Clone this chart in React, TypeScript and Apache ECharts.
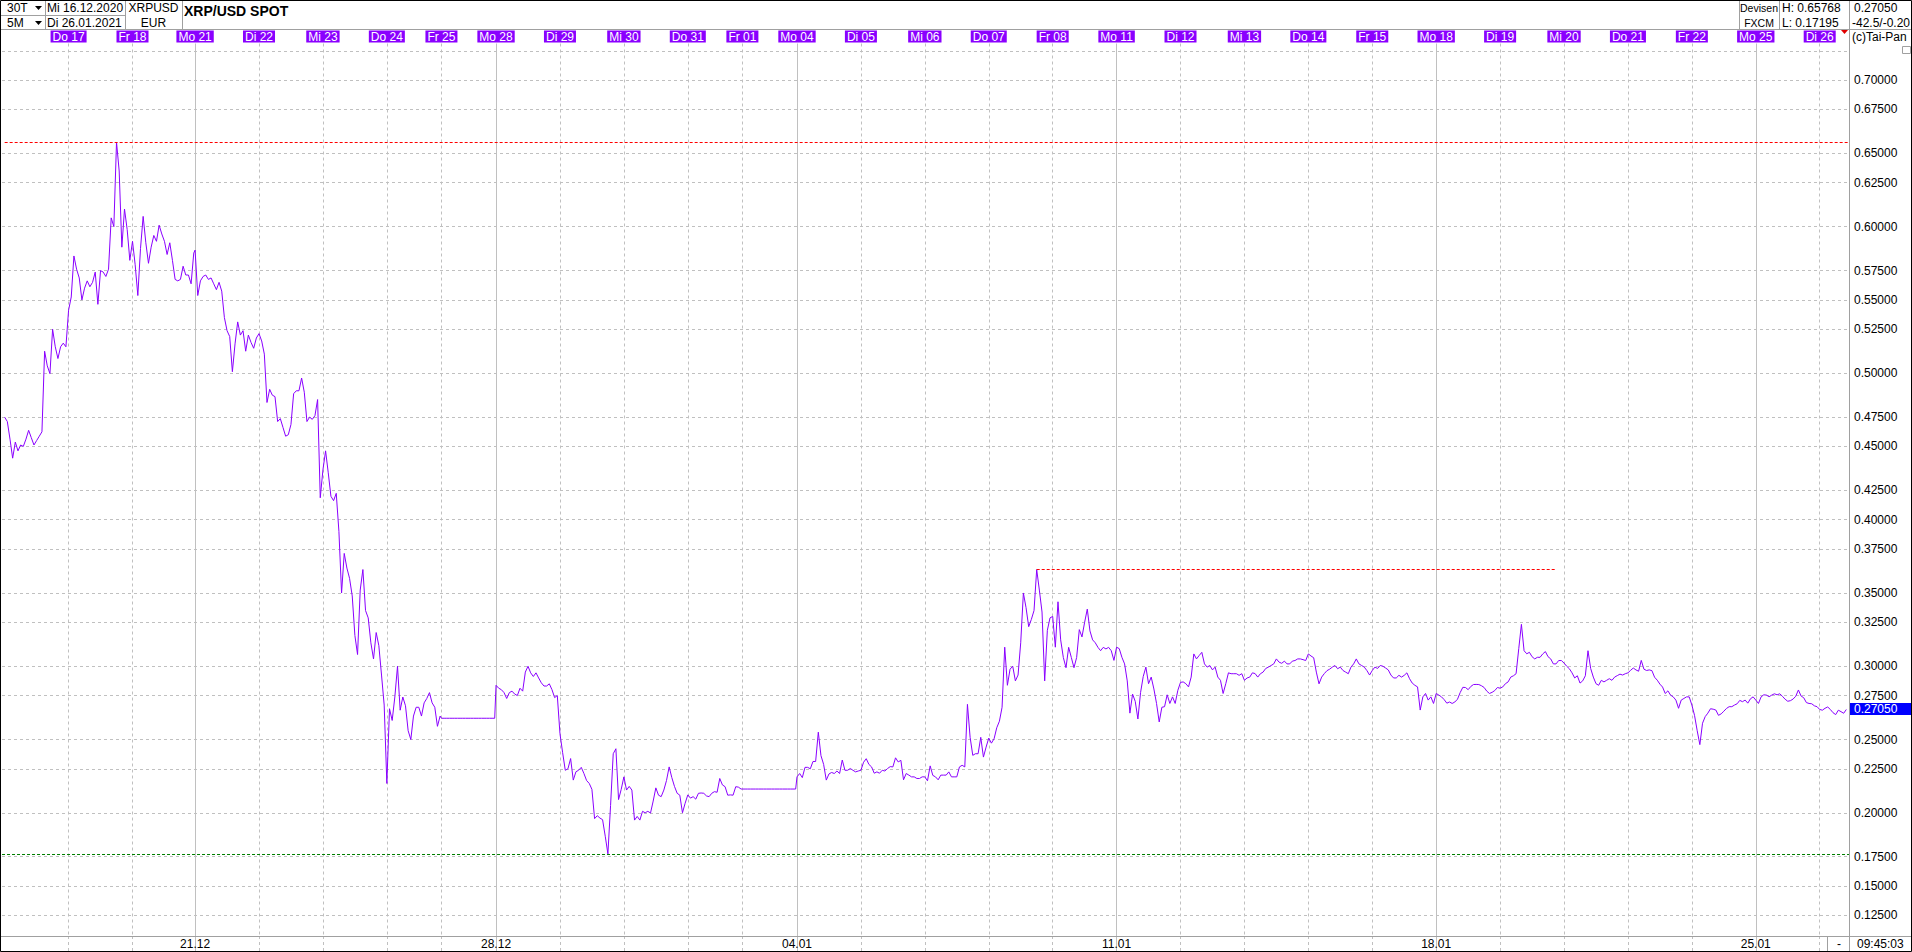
import React, { useEffect, useRef } from 'react';
import * as echarts from 'echarts';

// ---- trading days shown on the chart (label, date, number of 30-minute bars) ----
const dayLabels = ['Mi 16', 'Do 17', 'Fr 18', 'Mo 21', 'Di 22', 'Mi 23', 'Do 24', 'Fr 25', 'Mo 28', 'Di 29', 'Mi 30', 'Do 31', 'Fr 01', 'Mo 04', 'Di 05', 'Mi 06', 'Do 07', 'Fr 08', 'Mo 11', 'Di 12', 'Mi 13', 'Do 14', 'Fr 15', 'Mo 18', 'Di 19', 'Mi 20', 'Do 21', 'Fr 22', 'Mo 25', 'Di 26'];
const dayDates = ['16.12', '17.12', '18.12', '21.12', '22.12', '23.12', '24.12', '25.12', '28.12', '29.12', '30.12', '31.12', '01.01', '04.01', '05.01', '06.01', '07.01', '08.01', '11.01', '12.01', '13.01', '14.01', '15.01', '18.01', '19.01', '20.01', '21.01', '22.01', '25.01', '26.01'];
const dayBars = [50, 48, 47, 48, 48, 48, 41, 41, 48, 48, 48, 41, 41, 48, 48, 48, 48, 48, 48, 48, 48, 48, 48, 48, 48, 48, 48, 48, 48, 23];

// ---- XRP/USD hourly closes per day ----
const d1216 = [null, 0.470, 0.467, 0.455, 0.442, 0.453, 0.447, 0.451, 0.450, 0.455, 0.461, 0.456, 0.451, 0.454, 0.457, 0.460, 0.515, 0.505, 0.4997, 0.530, 0.518, 0.510, 0.518, 0.5205, 0.518];
const d1217 = [0.543, 0.552, 0.580, 0.571, 0.565, 0.550, 0.558, 0.563, 0.559, 0.562, 0.569, 0.547, 0.570, 0.569, 0.566, 0.571, 0.606, 0.600, 0.65768, 0.638, 0.586, 0.612, 0.598, 0.577];
const d1218 = [0.590, 0.574, 0.553, 0.585, 0.607, 0.589, 0.575, 0.586, 0.594, 0.590, 0.601, 0.595, 0.590, 0.581, 0.589, 0.577, 0.564, 0.563, 0.564, 0.573, 0.567, 0.567, 0.561, 0.582];
const d1221 = [0.584, 0.553, 0.563, 0.566, 0.567, 0.564, 0.565, 0.561, 0.557, 0.562, 0.556, 0.538, 0.529, 0.525, 0.501, 0.520, 0.535, 0.526, 0.529, 0.515, 0.526, 0.521, 0.517, 0.524];
const d1222 = [0.527, 0.522, 0.513, 0.480, 0.489, 0.485, 0.484, 0.467, 0.469, 0.463, 0.457, 0.458, 0.465, 0.486, 0.488, 0.488, 0.4967, 0.487, 0.467, 0.470, 0.4685, 0.471, 0.482, 0.415];
const d1223 = [0.434, 0.447, 0.432, 0.416, 0.413, 0.418, 0.392, 0.350, 0.377, 0.367, 0.360, 0.348, 0.321, 0.308, 0.352, 0.366, 0.338, 0.333, 0.316, 0.305, 0.323, 0.314, 0.294, 0.2735];
const d1224 = [0.220, 0.271, 0.263, 0.279, 0.300, 0.270, 0.279, 0.273, 0.256, 0.250, 0.266, 0.272, 0.272, 0.266, 0.275, 0.278, 0.282, 0.275, 0.272, 0.259, 0.266];
const d1225 = [0.2645, 0.2645, 0.2645, 0.2645, 0.2645, 0.2645, 0.2645, 0.2645, 0.2645, 0.2645, 0.2645, 0.2645, 0.2645, 0.2645, 0.2645, 0.2645, 0.2645, 0.2645, 0.2645, 0.2645, 0.2645];
const d1228 = [0.287, 0.285, 0.284, 0.282, 0.278, 0.282, 0.283, 0.281, 0.280, 0.285, 0.283, 0.296, 0.300, 0.2955, 0.293, 0.2955, 0.292, 0.2887, 0.2865, 0.2865, 0.288, 0.284, 0.2786, 0.280];
const d1229 = [0.254, 0.241, 0.229, 0.230, 0.237, 0.2223, 0.228, 0.229, 0.231, 0.2268, 0.222, 0.220, 0.216, 0.196, 0.198, 0.1964, 0.1953, 0.184, 0.17195, 0.205, 0.2403, 0.2437, 0.209, 0.216];
const d1230 = [0.2245, 0.2155, 0.218, 0.2155, 0.195, 0.1975, 0.195, 0.201, 0.200, 0.201, 0.1998, 0.208, 0.217, 0.212, 0.211, 0.2155, 0.222, 0.2313, 0.224, 0.218, 0.2133, 0.212, 0.200, 0.2065];
const d1231 = [0.2122, 0.210, 0.211, 0.2093, 0.2133, 0.2135, 0.2133, 0.2115, 0.211, 0.2133, 0.2144, 0.214, 0.2234, 0.219, 0.2178, 0.212, 0.2122, 0.212, 0.2178, 0.2175, 0.2162];
const d0101 = [0.2162, 0.2162, 0.2162, 0.2162, 0.2162, 0.2162, 0.2162, 0.2162, 0.2162, 0.2162, 0.2162, 0.2162, 0.2162, 0.2162, 0.2162, 0.2162, 0.2162, 0.2162, 0.2162, 0.2162, 0.2162];
const d0104 = [0.2245, 0.2268, 0.224, 0.231, 0.231, 0.230, 0.235, 0.235, 0.255, 0.239, 0.233, 0.2223, 0.2265, 0.2275, 0.2268, 0.2285, 0.2268, 0.236, 0.229, 0.229, 0.2302, 0.229, 0.2279, 0.2285];
const d0105 = [0.229, 0.2345, 0.2369, 0.233, 0.2313, 0.227, 0.2279, 0.227, 0.229, 0.2285, 0.2302, 0.2315, 0.2313, 0.2375, 0.2347, 0.2358, 0.2225, 0.2268, 0.2257, 0.2245, 0.2245, 0.2234, 0.2234, 0.2245];
const d0106 = [0.2245, 0.2218, 0.232, 0.2255, 0.2245, 0.2225, 0.2257, 0.2257, 0.2257, 0.2279, 0.2245, 0.2245, 0.2245, 0.2313, 0.2324, 0.2313, 0.274, 0.2515, 0.2392, 0.2403, 0.2403, 0.2515, 0.238, 0.2448];
const d0107 = [0.251, 0.2475, 0.2505, 0.258, 0.2625, 0.272, 0.313, 0.287, 0.298, 0.300, 0.290, 0.294, 0.316, 0.350, 0.340, 0.327, 0.332, 0.338, 0.366, 0.352, 0.337, 0.290, 0.3245, 0.333];
const d0108 = [0.334, 0.313, 0.344, 0.318, 0.306, 0.299, 0.3129, 0.306, 0.299, 0.306, 0.325, 0.320, 0.330, 0.339, 0.3241, 0.318, 0.316, 0.3129, 0.3106, 0.3129, 0.3118, 0.3129, 0.3106, 0.304];
const d0111 = [0.313, 0.312, 0.3061, 0.3016, 0.290, 0.268, 0.281, 0.276, 0.264, 0.282, 0.293, 0.2994, 0.2881, 0.2926, 0.2845, 0.2746, 0.262, 0.272, 0.2724, 0.2805, 0.2746, 0.2791, 0.2746, 0.2836];
const d0112 = [0.289, 0.2893, 0.2881, 0.2859, 0.2926, 0.3084, 0.305, 0.3073, 0.3095, 0.3016, 0.2994, 0.3005, 0.2975, 0.2994, 0.2926, 0.2904, 0.2814, 0.2881, 0.2955, 0.2949, 0.2949, 0.2949, 0.2938, 0.2949];
const d0113 = [0.2904, 0.292, 0.2926, 0.2955, 0.295, 0.2926, 0.2949, 0.296, 0.2985, 0.2994, 0.3005, 0.3016, 0.305, 0.3028, 0.302, 0.3035, 0.3016, 0.3016, 0.3035, 0.3039, 0.305, 0.305, 0.3045, 0.3039];
const d0114 = [0.3084, 0.307, 0.3058, 0.296, 0.288, 0.2926, 0.295, 0.297, 0.298, 0.2994, 0.3005, 0.2983, 0.2994, 0.2971, 0.296, 0.2949, 0.2994, 0.3016, 0.305, 0.3016, 0.3005, 0.2994, 0.297, 0.294];
const d0115 = [0.2971, 0.2994, 0.2985, 0.3005, 0.300, 0.2988, 0.2975, 0.294, 0.292, 0.292, 0.2938, 0.2926, 0.2938, 0.2955, 0.2915, 0.2885, 0.287, 0.2859, 0.2701, 0.2791, 0.2814, 0.2769, 0.2791, 0.2746];
const d0118 = [0.2814, 0.2803, 0.2791, 0.2772, 0.2748, 0.2756, 0.2746, 0.2756, 0.2775, 0.282, 0.2856, 0.2855, 0.284, 0.2862, 0.2875, 0.2876, 0.2875, 0.2867, 0.2855, 0.283, 0.2814, 0.2822, 0.2834, 0.2855];
const d0119 = [0.285, 0.2859, 0.2881, 0.2893, 0.2926, 0.2935, 0.2949, 0.312, 0.3286, 0.3106, 0.3085, 0.3095, 0.3065, 0.305, 0.3061, 0.3061, 0.3084, 0.310, 0.3065, 0.305, 0.3016, 0.3016, 0.3039, 0.3039];
const d0120 = [0.3022, 0.300, 0.2983, 0.2955, 0.292, 0.2935, 0.2885, 0.290, 0.2935, 0.3106, 0.2985, 0.2926, 0.2881, 0.287, 0.2904, 0.2893, 0.2904, 0.2915, 0.2904, 0.2926, 0.2936, 0.2946, 0.294, 0.2949];
const d0121 = [0.2955, 0.2972, 0.2988, 0.2975, 0.2966, 0.304, 0.298, 0.2971, 0.2975, 0.297, 0.2925, 0.2905, 0.2878, 0.2858, 0.2814, 0.2832, 0.2803, 0.2791, 0.2769, 0.2713, 0.2769, 0.278, 0.2791, 0.2791];
const d0122 = [0.2735, 0.2665, 0.256, 0.2465, 0.2611, 0.2656, 0.268, 0.271, 0.2707, 0.2701, 0.2665, 0.2675, 0.2693, 0.2712, 0.2724, 0.2724, 0.2735, 0.2744, 0.2767, 0.2758, 0.2769, 0.2748, 0.2778, 0.2791];
const d0125 = [0.2769, 0.2746, 0.2791, 0.2805, 0.2803, 0.2792, 0.2803, 0.2812, 0.2805, 0.2812, 0.2795, 0.2775, 0.2761, 0.2765, 0.2776, 0.2795, 0.2838, 0.2797, 0.2785, 0.2752, 0.2746, 0.2744, 0.273, 0.2724];
const d0126 = [0.2705, 0.270, 0.2713, 0.2722, 0.2705, 0.2683, 0.267, 0.270, 0.269, 0.2679, 0.2705];

const dayPrices = [d1216, d1217, d1218, d1221, d1222, d1223, d1224, d1225, d1228, d1229, d1230, d1231, d0101, d0104, d0105, d0106, d0107, d0108, d0111, d0112, d0113, d0114, d0115, d0118, d0119, d0120, d0121, d0122, d0125, d0126];

// ---- levels & axis ticks ----
const yTicks = [0.125, 0.15, 0.175, 0.2, 0.225, 0.25, 0.275, 0.3, 0.325, 0.35, 0.375, 0.4, 0.425, 0.45, 0.475, 0.5, 0.525, 0.55, 0.575, 0.6, 0.625, 0.65, 0.675, 0.7, 0.725];
const highValue = 0.65768;
const lowValue = 0.17195;
const lastValue = 0.2705;
const localHigh = 0.366;
const changeText = '-42.5/-0.20';
const timeText = '09:45:03';

const FONT = '"Liberation Sans", Arial, Helvetica, sans-serif';
const GRAY = '#a0a0a0';
const GRID = '#c0c0c0';
const PURPLE = '#8a00ff';

function buildGraphics() {
  const t = (x: number, y: number, text: string, o: any = {}) => ({
    type: 'text', x, y, z: 50, silent: true,
    style: { text, fill: '#000', fontSize: 12, fontFamily: FONT, verticalAlign: 'middle', align: 'left', ...o },
  });
  const ln = (x1: number, y1: number, x2: number, y2: number, stroke = GRAY) => ({
    type: 'line', z: 40, silent: true, shape: { x1, y1, x2, y2 }, style: { stroke, lineWidth: 1 },
  });
  return [
    { type: 'rect', z: 60, silent: true, shape: { x: 0.5, y: 0.5, width: 1911, height: 951 }, style: { fill: 'none', stroke: '#000', lineWidth: 1 } },
    ln(0, 29.5, 1912, 29.5),
    ln(0, 15.5, 125, 15.5),
    ln(45.5, 0, 45.5, 29),
    ln(125.5, 0, 125.5, 29),
    ln(182.5, 0, 182.5, 29),
    ln(1739.5, 0, 1739.5, 29),
    ln(1779.5, 0, 1779.5, 29),
    ln(1849.5, 0, 1849.5, 952),
    ln(0, 936.5, 1912, 936.5),
    ln(1827.5, 937, 1827.5, 952),
    { type: 'polygon', z: 50, silent: true, shape: { points: [[35, 6], [42, 6], [38.5, 10]] }, style: { fill: '#000' } },
    { type: 'polygon', z: 50, silent: true, shape: { points: [[35, 21], [42, 21], [38.5, 25]] }, style: { fill: '#000' } },
    t(7, 8, '30T'),
    t(7, 22.5, '5M'),
    t(47, 8, 'Mi 16.12.2020'),
    t(47, 22.5, 'Di 26.01.2021'),
    t(153.5, 8, 'XRPUSD', { align: 'center' }),
    t(153.5, 22.5, 'EUR', { align: 'center' }),
    t(184, 11, 'XRP/USD SPOT', { fontWeight: 'bold', fontSize: 14 }),
    t(1759, 8, 'Devisen', { align: 'center', fontSize: 10.5 }),
    t(1759, 22.5, 'FXCM', { align: 'center', fontSize: 10.5 }),
    t(1782, 8, 'H: ' + highValue.toFixed(5)),
    t(1782, 22.5, 'L: ' + lowValue.toFixed(5)),
    t(1854, 8, lastValue.toFixed(5)),
    t(1852, 22.5, changeText),
    t(1852, 37, '(c)Tai-Pan'),
    { type: 'polygon', z: 50, silent: true, shape: { points: [[1841, 30], [1848, 30], [1844.5, 34]] }, style: { fill: '#e00000' } },
    { type: 'rect', z: 50, silent: true, shape: { x: 1902.5, y: 46.5, width: 8, height: 7 }, style: { fill: '#fff', stroke: GRAY, lineWidth: 1 } },
    ln(1904, 50, 1909, 50),
    t(1839, 944, '-', { align: 'center' }),
    t(1857, 944, timeText),
  ];
}

function buildOption() {
  const starts: number[] = [];
  let acc = 0;
  dayBars.forEach((b) => { starts.push(acc); acc += b; });
  const total = acc;
  const categories: string[] = [];
  dayBars.forEach((b, d) => { for (let k = 0; k < b; k++) categories.push(dayDates[d] + '/' + k); });
  const startMap = new Map<number, number>();
  starts.forEach((s, d) => startMap.set(s, d));
  const isDayStart = (i: number) => i > 0 && startMap.has(i);
  const isMonday = (i: number) => isDayStart(i) && dayLabels[startMap.get(i)!].startsWith('Mo');
  const isPlainDay = (i: number) => isDayStart(i) && !isMonday(i);

  const points: [number, number][] = [];
  dayPrices.forEach((arr, d) => arr.forEach((v, j) => { if (v != null) points.push([starts[d] + 2 * j, v as number]); }));

  // local high (Do 07) and the end of its resistance line
  const hiIdx = starts[16] + 2 * d0107.indexOf(localHigh);
  const hiEnd = starts[25] - 7;

  const baseX = {
    type: 'category', data: categories, boundaryGap: false, gridIndex: 0,
    axisLine: { show: false, onZero: false },
  };

  return {
    animation: false,
    backgroundColor: '#fff',
    textStyle: { fontFamily: FONT },
    grid: { left: 2, right: 63, top: 43.5, bottom: 16, containLabel: false },
    xAxis: [
      {
        ...baseX, position: 'bottom',
        axisTick: { show: true, interval: (i: number) => isPlainDay(i), length: 15, lineStyle: { color: GRID, type: [3, 3] } },
        splitLine: { show: true, interval: (i: number) => isPlainDay(i), lineStyle: { color: GRID, type: [3, 3] } },
        axisLabel: {
          show: true, interval: (i: number) => isMonday(i), showMinLabel: true, showMaxLabel: true, hideOverlap: false,
          formatter: (_v: string, i: number) => (isMonday(i) ? dayDates[startMap.get(i)!] : ''),
          color: '#000', fontSize: 12, margin: 2,
        },
      },
      {
        ...baseX, position: 'bottom',
        axisTick: { show: true, interval: (i: number) => isMonday(i), length: 15, lineStyle: { color: GRID, type: 'solid' } },
        splitLine: { show: true, interval: (i: number) => isMonday(i), lineStyle: { color: GRID, type: 'solid' } },
        axisLabel: { show: false },
      },
      {
        ...baseX, position: 'top',
        axisTick: { show: false },
        splitLine: { show: false },
        axisLabel: {
          show: true, interval: (i: number) => isDayStart(i), showMinLabel: true, showMaxLabel: true, hideOverlap: false,
          formatter: (_v: string, i: number) => (isDayStart(i) ? dayLabels[startMap.get(i)!] : ''),
          color: '#fff', backgroundColor: PURPLE, fontSize: 12, lineHeight: 12, padding: [0, 2, 0, 2], margin: 1,
        },
      },
    ],
    yAxis: {
      type: 'value', position: 'right', min: 0.1159, max: 0.725,
      axisLine: { show: false }, axisTick: { show: false }, axisLabel: { show: false }, splitLine: { show: false },
    },
    series: [
      {
        name: 'grid', type: 'line', data: [], silent: true, z: 1,
        markLine: {
          silent: true, symbol: ['none', 'none'], z: 1, animation: false,
          data: yTicks.map((v) => ({
            yAxis: v,
            lineStyle: { color: GRID, type: [3, 3], width: 1 },
            label: { show: v < 0.72, position: 'end', distance: 5, formatter: v.toFixed(5), color: '#000', fontSize: 12, fontFamily: FONT },
          })),
        },
      },
      {
        name: 'XRP/USD', type: 'line', data: points, showSymbol: false, symbol: 'none', z: 3, silent: true,
        lineStyle: { color: PURPLE, width: 1 }, connectNulls: false,
      },
      {
        name: 'levels', type: 'line', data: [], silent: true, z: 6,
        markLine: {
          silent: true, symbol: ['none', 'none'], z: 6, animation: false,
          label: { show: false },
          data: [
            [{ coord: [2, highValue], lineStyle: { color: '#ff0000', type: [3, 2], width: 1 } }, { coord: [total - 1, highValue] }],
            [{ coord: [hiIdx, localHigh], lineStyle: { color: '#ff0000', type: [3, 2], width: 1 } }, { coord: [hiEnd, localHigh] }],
            [{ coord: [0, lowValue], lineStyle: { color: '#008000', type: [3, 2], width: 1 } }, { coord: [total - 1, lowValue] }],
          ],
        },
      },
    ],
    graphic: buildGraphics(),
  };
}

export default function App() {
  const ref = useRef<HTMLDivElement>(null);
  useEffect(() => {
    const chart = echarts.init(ref.current as HTMLDivElement, null, { renderer: 'svg' });
    chart.setOption(buildOption() as any);
    // current-price tag on the price scale
    const yPx = chart.convertToPixel({ yAxisIndex: 0 } as any, lastValue) as number;
    const tag = {
      type: 'group', z: 70, silent: true,
      children: [
        { type: 'rect', shape: { x: 1850, y: Math.round(yPx) - 6, width: 62, height: 12 }, style: { fill: '#0000ff' } },
        { type: 'text', x: 1854, y: Math.round(yPx), style: { text: lastValue.toFixed(5), fill: '#fff', fontSize: 12, fontFamily: FONT, verticalAlign: 'middle', align: 'left' } },
      ],
    };
    chart.setOption({ graphic: [...buildGraphics(), tag] } as any);
    return () => chart.dispose();
  }, []);
  return <div ref={ref} style={{ position: 'fixed', left: 0, top: 0, width: 1912, height: 952, background: '#fff' }} />;
}
